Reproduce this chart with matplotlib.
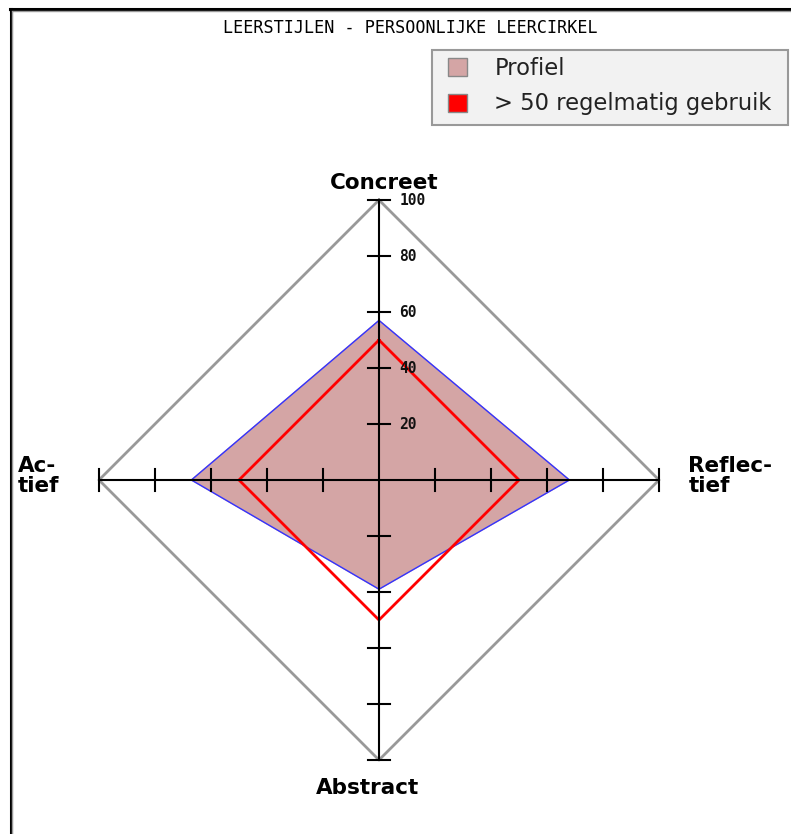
import numpy as np
import matplotlib
matplotlib.use("Agg")
import matplotlib.pyplot as plt
from matplotlib.patches import Patch, Rectangle
from matplotlib.lines import Line2D

# ----- DATA -----
axis_names = ["Concreet", "Reflectief", "Abstract", "Actief"]
axis_labels = ["Concreet", "Reflec-\ntief", "Abstract", "Ac-\ntief"]
profiel = [57, 68, 39, 67]
regelmatig = [50, 50, 50, 50]
tick_values = [20, 40, 60, 80, 100]
max_value = 100

# directions for each axis (top, right, bottom, left)
dirs = np.array([[0, 1], [1, 0], [0, -1], [-1, 0]])

def to_xy(values):
    pts = dirs * np.array(values)[:, None]
    return np.vstack([pts, pts[:1]])

# ----- FIGURE -----
W, H = 791, 834
fig = plt.figure(figsize=(W / 100, H / 100), dpi=100)
ax = fig.add_axes([0, 0, 1, 1])
scale = 2.8          # px per unit
cx, cy = 379, 480    # center in px (from top)
ax.set_xlim(-cx / scale, (W - cx) / scale)
ax.set_ylim(-(H - cy) / scale, cy / scale)
ax.axis("off")

mono = "DejaVu Sans Mono"
sans = "DejaVu Sans"

# outer diamond
outer = to_xy([max_value] * 4)
ax.plot(outer[:, 0], outer[:, 1], color="#999999", lw=2, zorder=1)

# profile
p = to_xy(profiel)
ax.fill(p[:, 0], p[:, 1], color="#d4a5a5", zorder=2)
ax.plot(p[:, 0], p[:, 1], color="#3333ff", lw=1, zorder=3)

# > 50 line
r = to_xy(regelmatig)
ax.plot(r[:, 0], r[:, 1], color="#ff0000", lw=2, zorder=4)

# axes with ticks
ax.plot([0, 0], [-max_value, max_value], color="black", lw=1.5, zorder=5)
ax.plot([-max_value, max_value], [0, 0], color="black", lw=1.5, zorder=5)
t = 3.8
for v in tick_values:
    for s in (1, -1):
        ax.plot([-t, t], [s * v, s * v], color="black", lw=1.5, zorder=5)
        ax.plot([s * v, s * v], [-t, t], color="black", lw=1.5, zorder=5)
    ax.text(7.3, v, str(v), fontsize=10.5, family=mono, weight="bold",
            va="center", ha="left", zorder=6, color="#111111")

# axis names
lab = dict(fontsize=15.5, family=sans, weight="bold")
ax.text(2, 106, axis_labels[0], ha="center", va="center", **lab)
ax.text(-4, -110, axis_labels[2], ha="center", va="center", **lab)
ax.text(-129, 1.5, axis_labels[3], ha="left", va="center",
        linespacing=1.0, **lab)
ax.text(110.5, 1.5, axis_labels[1], ha="left", va="center",
        linespacing=1.0, **lab)

# title
fig.text(410 / W, 1 - 28 / H, "LEERSTIJLEN - PERSOONLIJKE LEERCIRKEL",
         fontsize=12.1, family=mono, ha="center", va="center")

# frame lines
fig.add_artist(Line2D([10 / W, 1], [1 - 8.5 / H] * 2, color="black", lw=2.2))
fig.add_artist(Line2D([10 / W, 1], [1 - 10.5 / H] * 2, color="#999999", lw=1))
fig.add_artist(Line2D([10.5 / W] * 2, [0, 1 - 8.5 / H], color="black", lw=2.2))
fig.add_artist(Line2D([12.5 / W] * 2, [0, 1 - 10.5 / H], color="#999999", lw=1))

# legend box drawn by hand, legend itself without frame
fig.add_artist(Rectangle((432 / W, 1 - 125 / H), (788 - 432) / W, 75 / H,
                         transform=fig.transFigure, facecolor="#f2f2f2",
                         edgecolor="#999999", lw=1.5, zorder=0))
handles = [
    Patch(facecolor="#d4a5a5", edgecolor="#888888", label="Profiel"),
    Patch(facecolor="#ff0000", edgecolor="#888888", label="> 50 regelmatig gebruik"),
]
leg = fig.legend(handles=handles, loc="upper left",
                 bbox_to_anchor=(448 / W, 1 - 57 / H), fontsize=16.3,
                 frameon=False, handlelength=0.85, handleheight=0.85,
                 handletextpad=1.2, borderpad=0, labelspacing=0.55,
                 borderaxespad=0)
for txt in leg.get_texts():
    txt.set_color("#222222")

fig.savefig("out.png", dpi=100)
